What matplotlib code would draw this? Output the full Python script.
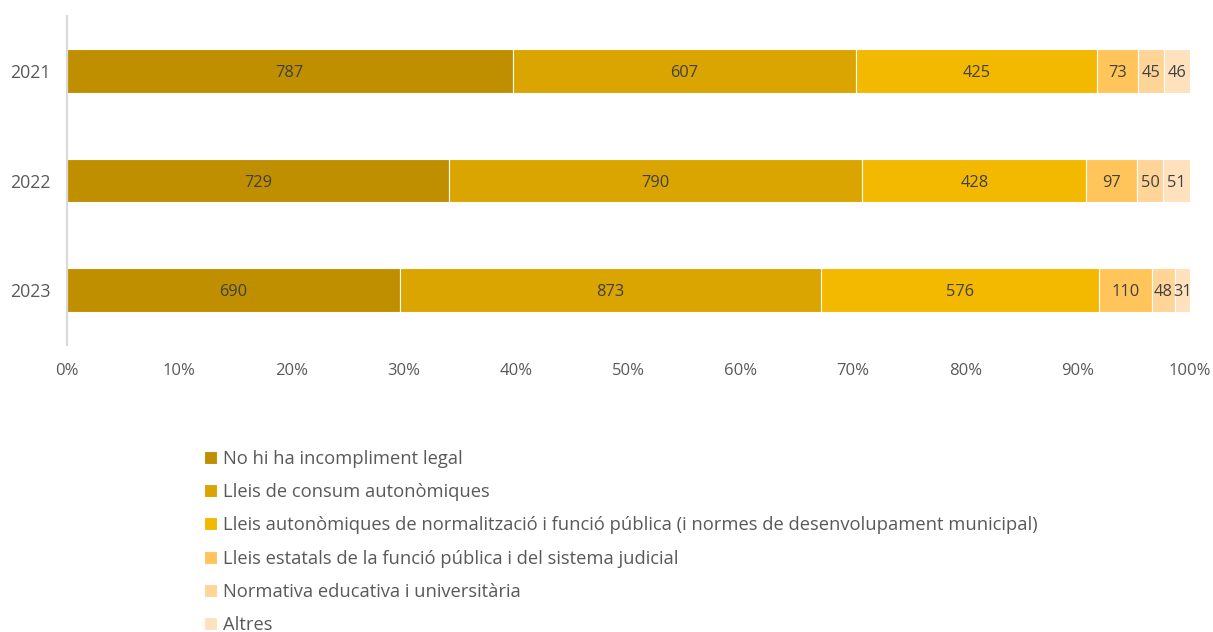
import matplotlib.pyplot as plt
import numpy as np

plt.rcParams['font.family'] = ['Open Sans', 'DejaVu Sans']

years = ['2021', '2022', '2023']
categories = [
    'No hi ha incompliment legal',
    'Lleis de consum autonòmiques',
    'Lleis autonòmiques de normalització i funció pública (i normes de desenvolupament municipal)',
    'Lleis estatals de la funció pública i del sistema judicial',
    'Normativa educativa i universitària',
    'Altres',
]
counts = [
    [787, 729, 690],
    [607, 790, 873],
    [425, 428, 576],
    [73, 97, 110],
    [45, 50, 48],
    [46, 51, 31],
]
colors = ['#BF8F00', '#DAA500', '#F3B800', '#FFC55A', '#FFD597', '#FFE1BE']

counts = np.array(counts, dtype=float)
shares = counts / counts.sum(axis=0) * 100

fig = plt.figure(figsize=(12.13, 6.32), dpi=100)
ax = fig.add_axes([0.0552, 0.454, 0.9258, 0.5206])

y = np.arange(len(years))
left = np.zeros(len(years))
handles = []
for i, cat in enumerate(categories):
    bars = ax.barh(y, shares[i], left=left, height=0.4, color=colors[i],
                   edgecolor='white', linewidth=0.8, label=cat)
    handles.append(bars)
    for j in range(len(years)):
        ax.text(left[j] + shares[i][j] / 2, y[j] + 0.02, f'{int(counts[i][j])}',
                ha='center', va='center', fontsize=11.8, color='#404040')
    left += shares[i]

ax.set_xlim(0, 100)
ax.set_ylim(2.5, -0.5)
ax.set_yticks(y)
ax.set_yticklabels(years)
ax.set_xticks(np.arange(0, 101, 10))
ax.set_xticklabels([f'{v}%' for v in range(0, 101, 10)])
ax.tick_params(axis='both', length=0, colors='#595959')
ax.tick_params(axis='x', pad=13, labelsize=12)
ax.tick_params(axis='y', pad=12, labelsize=12.8)
for s in ['top', 'right', 'bottom']:
    ax.spines[s].set_visible(False)
ax.spines['left'].set_color('#D9D9D9')
ax.spines['left'].set_linewidth(1.5)

fig.legend(handles=handles, labels=categories, loc='upper left',
           bbox_to_anchor=(0.1625, 0.3), frameon=False, fontsize=13.25,
           handlelength=0.7, handleheight=0.7, handletextpad=0.3,
           labelspacing=0.83, labelcolor='#595959', borderaxespad=0)

fig.savefig('out.png', dpi=100)
